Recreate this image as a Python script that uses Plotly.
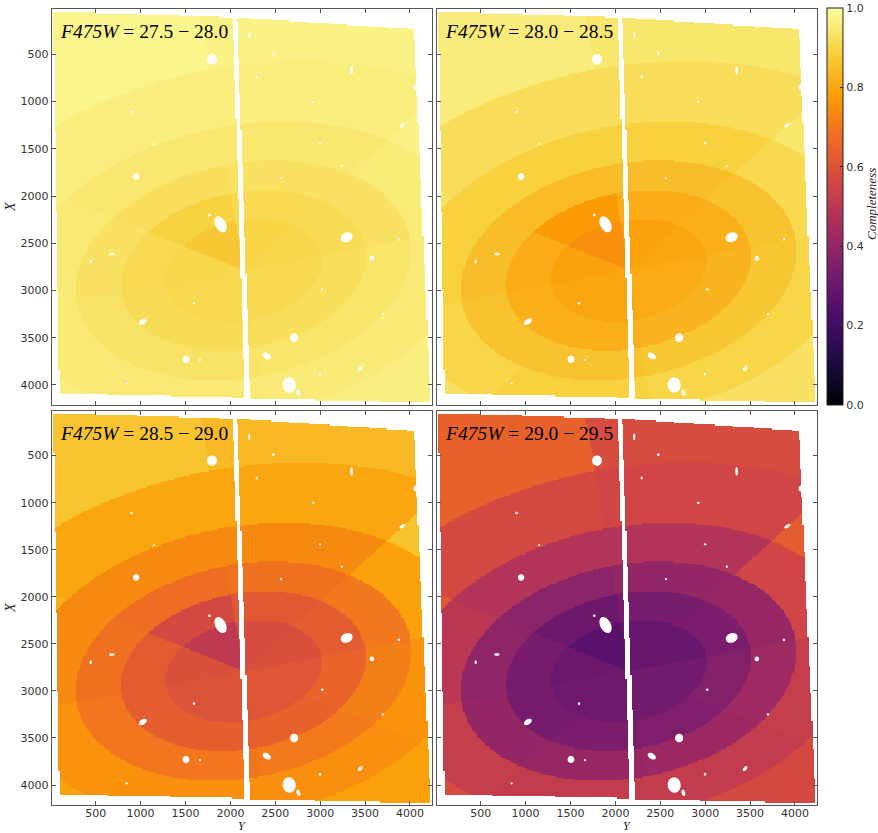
import numpy as np
import plotly.graph_objects as go

# ---------------------------------------------------------------------------
# Completeness tables: rows = elliptical annuli (inner -> outer),
# columns = angular sectors (LU, UL, UR, RU, RD, DR, DL, LD)
# ---------------------------------------------------------------------------
mag_bins = ["27.5 − 28.0", "28.0 − 28.5", "28.5 − 29.0", "29.0 − 29.5"]

comp_275_280 = [
    [0.903, 0.870, 0.898, 0.903, 0.910, 0.910, 0.908, 0.906],
    [0.913, 0.893, 0.913, 0.916, 0.922, 0.922, 0.918, 0.916],
    [0.928, 0.923, 0.928, 0.930, 0.937, 0.937, 0.933, 0.933],
    [0.948, 0.943, 0.943, 0.953, 0.952, 0.952, 0.948, 0.948],
    [0.963, 0.960, 0.958, 0.968, 0.963, 0.963, 0.960, 0.963],
    [0.975, 0.975, 0.968, 0.973, 0.973, 0.968, 0.968, 0.973],
]
comp_280_285 = [
    [0.790, 0.750, 0.790, 0.800, 0.810, 0.810, 0.800, 0.800],
    [0.815, 0.780, 0.815, 0.820, 0.830, 0.830, 0.820, 0.820],
    [0.850, 0.845, 0.850, 0.860, 0.870, 0.870, 0.860, 0.860],
    [0.890, 0.890, 0.890, 0.910, 0.900, 0.900, 0.890, 0.900],
    [0.930, 0.920, 0.920, 0.940, 0.930, 0.930, 0.920, 0.930],
    [0.955, 0.955, 0.940, 0.950, 0.940, 0.940, 0.940, 0.945],
]
comp_285_290 = [
    [0.590, 0.510, 0.580, 0.590, 0.610, 0.610, 0.600, 0.600],
    [0.625, 0.570, 0.620, 0.630, 0.650, 0.645, 0.635, 0.630],
    [0.685, 0.675, 0.685, 0.700, 0.715, 0.705, 0.695, 0.695],
    [0.740, 0.740, 0.740, 0.790, 0.760, 0.750, 0.750, 0.760],
    [0.820, 0.800, 0.800, 0.860, 0.800, 0.790, 0.790, 0.795],
    [0.865, 0.865, 0.840, 0.850, 0.820, 0.810, 0.820, 0.830],
]
comp_290_295 = [
    [0.300, 0.260, 0.290, 0.290, 0.320, 0.320, 0.310, 0.310],
    [0.330, 0.300, 0.330, 0.340, 0.360, 0.350, 0.340, 0.330],
    [0.390, 0.380, 0.400, 0.410, 0.430, 0.420, 0.410, 0.400],
    [0.500, 0.480, 0.480, 0.560, 0.530, 0.520, 0.520, 0.530],
    [0.620, 0.570, 0.560, 0.630, 0.580, 0.570, 0.570, 0.580],
    [0.645, 0.645, 0.580, 0.620, 0.600, 0.580, 0.600, 0.620],
]
tables = [comp_275_280, comp_280_285, comp_285_290, comp_290_295]

# Annulus geometry (pixel coordinates of the image)
center_Y, center_X = 2150.0, 2790.0
position_angle = 10.0          # degrees, major axis tilt
axis_ratio = 0.6
annulus_edges = [880, 1380, 1890, 2560, 3600]   # semi-major axes
sector_width = 45.0

# Detector footprint: two chips, corners as (Y, X)
chip_left = [(28, 49), (2029, 109), (2163, 4140), (95, 4098)]
chip_right = [(2077, 109), (4048, 236), (4234, 4190), (2226, 4151)]

# Masked sources: (Y, X, semi-major, semi-minor, tilt in degrees)
masked_sources = [
    (1795, 553, 55, 55, 0), (1890, 2300, 92, 58, 60), (3295, 2437, 68, 50, -20),
    (2655, 4000, 82, 72, 80), (950, 1795, 35, 35, 0), (1025, 3330, 48, 28, -30),
    (1505, 3728, 38, 38, 0), (2710, 3500, 45, 45, 0), (2405, 3693, 50, 30, 30),
    (3575, 2660, 25, 25, 0), (3445, 3825, 32, 18, -45), (2757, 4083, 35, 20, 70),
    (3350, 668, 45, 15, 90), (3915, 1250, 38, 16, -30), (4060, 850, 30, 20, 90),
    (680, 2613, 30, 14, 0), (2210, 300, 35, 12, 90),
    (2478, 490, 14, 14, 0), (901, 1108, 16, 12, 0), (3877, 2458, 14, 14, 0),
    (3023, 2987, 16, 12, 0), (1595, 3135, 14, 14, 0), (2293, 737, 16, 12, 90),
    (2923, 1002, 14, 12, 0), (1765, 2201, 14, 14, 0), (444, 2695, 20, 12, 90),
    (2998, 1442, 14, 12, 0), (2563, 1812, 12, 12, 0), (2182, 3524, 14, 12, 0),
    (2998, 3886, 14, 14, 0), (845, 3982, 12, 12, 0), (1661, 3735, 12, 12, 0),
    (3240, 1680, 12, 12, 0), (3700, 3250, 14, 12, 0), (1150, 1450, 12, 10, 0),
]

x_range = [10, 4242]
y_range = [4212, 24]
tick_vals = [500, 1000, 1500, 2000, 2500, 3000, 3500, 4000]

# ---------------------------------------------------------------------------
step = 14.0
grid = np.arange(0.0, 4260.0, step) + step / 2
YY, XX = np.meshgrid(grid, grid)   # rows -> X, cols -> Y


def inside_quad(quad, Y, X):
    ok = np.ones_like(Y, dtype=bool)
    for i in range(4):
        y0, x0 = quad[i]
        y1, x1 = quad[(i + 1) % 4]
        cross = (y1 - y0) * (X - x0) - (x1 - x0) * (Y - y0)
        ok &= cross >= 0
    return ok


def ellipse_path(yc, xc, a, b, tilt_deg, n=36):
    t = np.linspace(0, 2 * np.pi, n, endpoint=False)
    th = np.radians(tilt_deg)
    py = yc + a * np.cos(t) * np.cos(th) - b * np.sin(t) * np.sin(th)
    px = xc + a * np.cos(t) * np.sin(th) + b * np.sin(t) * np.cos(th)
    pts = " L".join(f"{yy:.1f},{xx:.1f}" for yy, xx in zip(py, px))
    return "M" + pts + " Z"


footprint = inside_quad(chip_left, YY, XX) | inside_quad(chip_right, YY, XX)

pa = np.radians(position_angle)
dY = YY - center_Y
dX = XX - center_X
u = dY * np.cos(pa) - dX * np.sin(pa)
v = dY * np.sin(pa) + dX * np.cos(pa)
rad = np.sqrt(u ** 2 + (v / axis_ratio) ** 2)
ang = np.degrees(np.arctan2(v / axis_ratio, u))
ring_idx = np.searchsorted(np.array(annulus_edges), rad)
sector_idx = np.clip(np.floor((ang + 180.0) / sector_width).astype(int), 0, 7)

fig = go.Figure()

# panel domains (paper coordinates)
W, H = 878, 833
col_dom = [[51.7 / W, 431.7 / W], [436.7 / W, 816.7 / W]]
row_dom = [[1 - 405.0 / H, 1 - 9.3 / H], [1 - 805.0 / H, 1 - 410.8 / H]]

axis_font = dict(family="DejaVu Sans", size=11, color="#333333")
serif = "Liberation Serif"

shapes = []
annotations = []
for k, table in enumerate(tables):
    r, c = divmod(k, 2)
    n = k + 1
    xa = "x" if n == 1 else f"x{n}"
    ya = "y" if n == 1 else f"y{n}"
    tab = np.array(table)
    z = tab[ring_idx, sector_idx]
    z = np.where(footprint, z, np.nan)
    fig.add_trace(go.Heatmap(
        x=grid, y=grid, z=z, xaxis=xa, yaxis=ya,
        colorscale="Inferno", zmin=0, zmax=1, zsmooth=False,
        showscale=(k == 0), hoverinfo="skip",
        colorbar=dict(
            x=827 / W, xanchor="left", y=1 - 8 / H, yanchor="top",
            len=397 / H, lenmode="fraction", thickness=16, thicknessmode="pixels",
            outlinewidth=1, outlinecolor="#222222",
            tickvals=[0, 0.2, 0.4, 0.6, 0.8, 1.0], ticktext=["0.0", "0.2", "0.4", "0.6", "0.8", "1.0"],
            ticks="inside", ticklen=3, tickcolor="#222222",
            tickfont=axis_font, xpad=0, ypad=0,
        ),
    ))
    xkey = "xaxis" if n == 1 else f"xaxis{n}"
    ykey = "yaxis" if n == 1 else f"yaxis{n}"
    common = dict(showgrid=False, zeroline=False, showline=True, linecolor="#555555",
                  linewidth=1, mirror="ticks", ticks="inside", ticklen=4,
                  tickcolor="#555555", tickvals=tick_vals, tickfont=axis_font)
    fig.layout[xkey] = dict(common, domain=col_dom[c], range=x_range, anchor=ya,
                            showticklabels=(r == 1), ticklabelstandoff=-2)
    fig.layout[ykey] = dict(common, domain=row_dom[r], range=y_range, anchor=xa,
                            showticklabels=(c == 0))
    for (sy, sx, sa, sb, tilt) in masked_sources:
        shapes.append(dict(type="path", xref=xa, yref=ya,
                           path=ellipse_path(sy, sx, sa, sb, tilt),
                           fillcolor="white", line=dict(width=0), layer="above"))
    annotations.append(dict(
        xref=f"{xa} domain", yref=f"{ya} domain", x=0.016, y=0.943,
        xanchor="left", yanchor="middle", showarrow=False,
        text=f"<i>F475W</i> = {mag_bins[k]}",
        font=dict(family=serif, size=19.5, color="black"),
    ))

# axis titles
for xc in [241.7, 626.7]:
    annotations.append(dict(xref="paper", yref="paper", x=xc / W, y=1 - 826.0 / H,
                            xanchor="center", yanchor="middle", showarrow=False,
                            text="<i>Y</i>", font=dict(family=serif, size=12, color="#222222")))
for yc in [207.0, 608.0]:
    annotations.append(dict(xref="paper", yref="paper", x=10 / W, y=1 - yc / H,
                            xanchor="center", yanchor="middle", showarrow=False, textangle=-90,
                            text="<i>X</i>", font=dict(family=serif, size=14, color="#222222")))
annotations.append(dict(xref="paper", yref="paper", x=871 / W, y=1 - 204 / H,
                        xanchor="center", yanchor="middle", showarrow=False, textangle=-90,
                        text="<i>Completeness</i>", font=dict(family=serif, size=13, color="#222222")))

fig.update_layout(
    width=W, height=H, margin=dict(l=0, r=0, t=0, b=0),
    paper_bgcolor="white", plot_bgcolor="white",
    shapes=shapes, annotations=annotations, showlegend=False,
)

fig.write_html("out.html")
